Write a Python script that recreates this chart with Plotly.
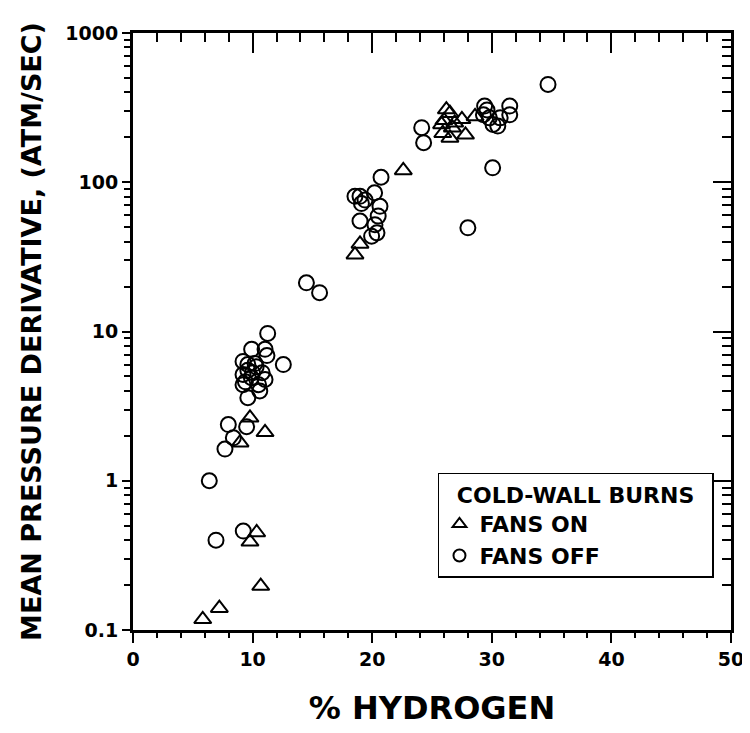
import plotly.graph_objects as go

# % hydrogen and mean pressure derivative (atm/sec)
fans_on_x = [5.83, 7.22, 10.68, 9.78, 10.34, 8.95, 9.78, 11.04, 18.56, 18.98, 22.6,
             25.8, 25.9, 26.2, 26.5, 26.7, 26.5, 27.5, 27.8, 28.6, 26.0, 26.9]
fans_on_y = [0.118, 0.14, 0.197, 0.39, 0.45, 1.8, 2.64, 2.11, 32.7, 38.6, 120,
             244, 213, 307, 290, 232, 198, 264, 208, 276, 260, 250]

fans_off_x = [6.38, 6.94, 9.22, 7.69, 7.97, 8.39, 9.5,
              11.26, 9.92, 11.04, 11.2, 12.57, 9.2, 9.6, 10.2, 9.2, 9.6, 10.0, 10.8,
              9.4, 9.2, 10.5, 11.04, 9.6, 10.6, 9.9, 10.3,
              14.5, 15.6,
              18.56, 18.98, 19.4, 19.1, 20.2, 20.65, 20.5, 18.98, 20.23, 19.95, 20.4, 20.74,
              24.14, 24.3, 29.4, 29.6, 31.5, 31.5, 29.8, 30.7, 30.1, 30.5, 29.3,
              30.07, 28.0, 34.7]
fans_off_y = [1.0, 0.40, 0.46, 1.63, 2.38, 1.94, 2.3,
              9.7, 7.6, 7.6, 6.9, 6.0, 6.3, 6.0, 6.1, 5.15, 5.5, 5.3, 5.3,
              4.6, 4.4, 4.4, 4.77, 3.6, 4.0, 4.9, 5.8,
              21.2, 18.2,
              80.5, 80.5, 76, 72, 85, 69, 59.3, 55, 52, 43.5, 45.8, 108,
              232, 184, 324, 305, 324, 283, 270, 270, 244, 238, 283,
              125, 49.5, 452]

x_ticks = [0, 10, 20, 30, 40, 50]
y_ticks = [0.1, 1, 10, 100, 1000]
y_tick_labels = ["0.1", "1", "10", "100", "1000"]
y_minor = [m * d for d in [0.1, 1, 10, 100] for m in range(2, 10)]

FONT = "DejaVu Sans"
fig = go.Figure()
fig.add_trace(go.Scatter(
    x=fans_on_x, y=fans_on_y, mode="markers", name="FANS ON",
    marker=dict(symbol="triangle-up-open", size=15, color="black", line=dict(width=2, color="black")),
))
fig.add_trace(go.Scatter(
    x=fans_off_x, y=fans_off_y, mode="markers", name="FANS OFF",
    marker=dict(symbol="circle-open", size=15, color="black", line=dict(width=2, color="black")),
))
# helper trace for the mirrored (top/right) axes
fig.add_trace(go.Scatter(x=[None], y=[None], xaxis="x2", yaxis="y2", showlegend=False, hoverinfo="skip"))

common = dict(showline=True, linewidth=3, linecolor="black", showgrid=False, zeroline=False,
              automargin=False, tickcolor="black")

fig.update_layout(
    width=742, height=725,
    margin=dict(l=125, r=19, t=25, b=103),
    paper_bgcolor="white", plot_bgcolor="white",
    font=dict(family=FONT, color="black", size=18, weight=700),
    xaxis=dict(
        range=[0, 50], tickvals=x_ticks, ticks="outside", ticklen=10, tickwidth=2,
        tickfont=dict(size=19, family=FONT, weight=700),
        minor=dict(dtick=2, ticks="outside", ticklen=5, tickwidth=1.5, tickcolor="black", showgrid=False),
        title=dict(text="% HYDROGEN", font=dict(size=32, family=FONT, weight=700), standoff=28),
        **common,
    ),
    yaxis=dict(
        type="log", range=[-1, 3], tickvals=y_ticks, ticktext=y_tick_labels,
        ticks="outside", ticklen=8, tickwidth=2,
        tickfont=dict(size=19, family=FONT, weight=700),
        minor=dict(tickvals=y_minor, ticks="outside", ticklen=6, tickwidth=1.5, tickcolor="black", showgrid=False),
        title=dict(text="MEAN PRESSURE DERIVATIVE, (ATM/SEC)", font=dict(size=27, family=FONT, weight=700), standoff=16),
        **common,
    ),
    xaxis2=dict(
        overlaying="x", side="top", anchor="y2", range=[0, 50], tickvals=x_ticks,
        showticklabels=False, ticks="inside", ticklen=20, tickwidth=2,
        minor=dict(dtick=2, ticks="inside", ticklen=9, tickwidth=1.5, tickcolor="black", showgrid=False),
        **common,
    ),
    yaxis2=dict(
        overlaying="y", side="right", anchor="x2", type="log", range=[-1, 3], tickvals=y_ticks,
        showticklabels=False, ticks="inside", ticklen=18, tickwidth=2,
        minor=dict(tickvals=y_minor, ticks="inside", ticklen=9, tickwidth=1.5, tickcolor="black", showgrid=False),
        **common,
    ),
    legend=dict(
        x=0.51, y=0.263, xanchor="left", yanchor="top",
        bordercolor="black", borderwidth=1.5, bgcolor="white",
        title=dict(text="\u00a0\u00a0COLD-WALL BURNS\u00a0\u00a0", font=dict(size=22, family=FONT, weight=700)),
        font=dict(size=22, family=FONT, weight=700),
        itemsizing="constant", tracegroupgap=0, itemwidth=30,
    ),
    showlegend=True,
)

fig.write_html("out.html")
